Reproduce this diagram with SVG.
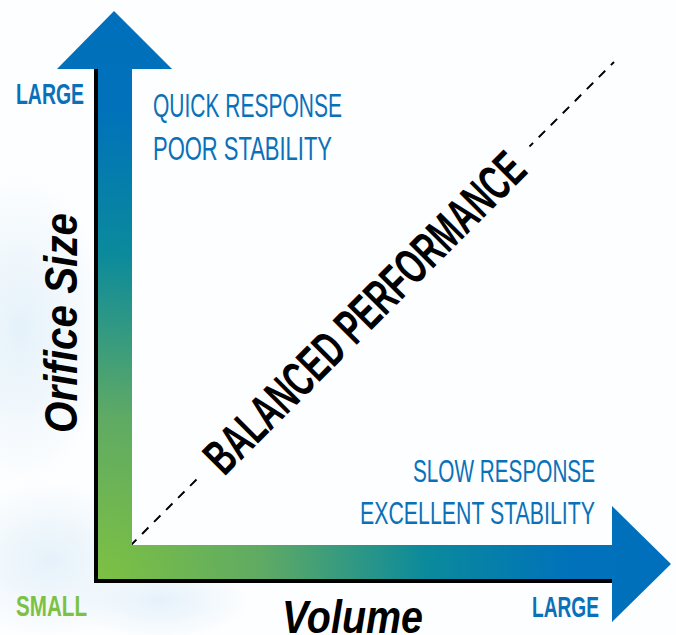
<svg xmlns="http://www.w3.org/2000/svg" width="676" height="635" viewBox="0 0 676 635">
  <defs>
    <radialGradient id="arrowGrad" gradientUnits="userSpaceOnUse" cx="100" cy="580" r="545">
      <stop offset="0" stop-color="#7dc142"/>
      <stop offset="0.3" stop-color="#5faa64"/>
      <stop offset="0.6" stop-color="#0b8a9c"/>
      <stop offset="0.86" stop-color="#0072ba"/>
      <stop offset="1" stop-color="#0070bc"/>
    </radialGradient>
    <radialGradient id="bok1" cx="0.5" cy="0.5" r="0.5">
      <stop offset="0" stop-color="#e2f0f9" stop-opacity="0.9"/>
      <stop offset="1" stop-color="#e2f0f9" stop-opacity="0"/>
    </radialGradient>
    <style>
      .lbl { font-family: "Liberation Sans", Arial, sans-serif; fill: #0a71b9; }
      .bold { font-weight: bold; }
      .axis { font-family: "Liberation Sans", Arial, sans-serif; font-weight: bold; font-style: italic; fill: #000; }
    </style>
  </defs>

  <rect x="0" y="0" width="676" height="635" fill="#fdfeff"/>
  <!-- faint background bokeh -->
  <ellipse cx="20" cy="330" rx="90" ry="160" fill="url(#bok1)"/>
  <ellipse cx="50" cy="560" rx="100" ry="80" fill="url(#bok1)"/>
  <ellipse cx="160" cy="600" rx="90" ry="40" fill="url(#bok1)"/>

  <g id="connectors">
    <line x1="106" y1="570" x2="614" y2="62" stroke="#000" stroke-width="2" stroke-dasharray="9,8"/>
  </g>

  <g id="axes">
    <path d="M98,69 L57,69 L114,11 L172,69 L132,69 L132,545 L612,545 L612,506 L671,564 L612,622 L612,579 L98,579 Z" fill="url(#arrowGrad)"/>
    <path d="M96,69 L96,581 L612,581" fill="none" stroke="#000" stroke-width="4"/>
  </g>

  <g id="balanced">
    <g transform="translate(364,312) rotate(-45)">
      <rect x="-234" y="-34" width="468" height="68" fill="#fdfeff"/>
      <text x="0" y="18" text-anchor="middle" font-family="'Liberation Sans', Arial, sans-serif" font-weight="bold" font-size="50" fill="#000" textLength="431" lengthAdjust="spacingAndGlyphs">BALANCED PERFORMANCE</text>
    </g>
  </g>

  <g id="quick">
    <text class="lbl" x="153" y="117" font-size="33" textLength="189" lengthAdjust="spacingAndGlyphs">QUICK RESPONSE</text>
    <text class="lbl" x="153" y="160" font-size="33" textLength="179" lengthAdjust="spacingAndGlyphs">POOR STABILITY</text>
  </g>

  <g id="slow">
    <text class="lbl" x="413" y="482" font-size="32" textLength="182" lengthAdjust="spacingAndGlyphs">SLOW RESPONSE</text>
    <text class="lbl" x="360" y="524" font-size="32" textLength="235" lengthAdjust="spacingAndGlyphs">EXCELLENT STABILITY</text>
  </g>

  <g id="y-large">
    <text class="lbl bold" x="16" y="104" font-size="29" textLength="68" lengthAdjust="spacingAndGlyphs">LARGE</text>
  </g>
  <g id="x-large">
    <text class="lbl bold" x="532" y="617" font-size="30" textLength="67" lengthAdjust="spacingAndGlyphs">LARGE</text>
  </g>
  <g id="small">
    <text class="bold" x="16" y="616" font-size="29" fill="#7dc142" font-family="'Liberation Sans', Arial, sans-serif" textLength="71" lengthAdjust="spacingAndGlyphs">SMALL</text>
  </g>

  <g id="y-title">
    <text class="axis" transform="translate(77,433) rotate(-90)" x="0" y="0" font-size="47" textLength="220" lengthAdjust="spacingAndGlyphs">Orifice Size</text>
  </g>
  <g id="x-title">
    <text class="axis" x="282" y="633" font-size="46" textLength="141" lengthAdjust="spacingAndGlyphs">Volume</text>
  </g>
</svg>
